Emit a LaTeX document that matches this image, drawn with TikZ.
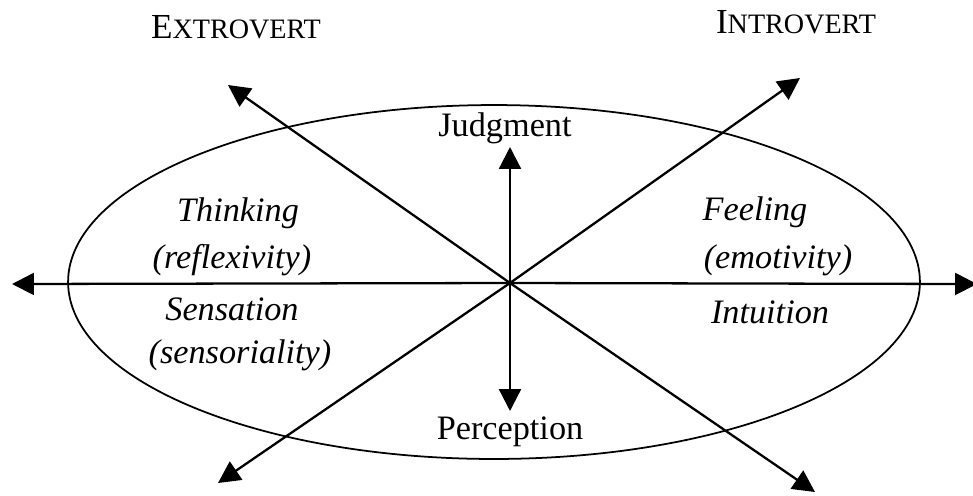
\documentclass[tikz,border=0pt]{standalone}
\usepackage{fontspec}
\setmainfont{Liberation Serif}
\usetikzlibrary{arrows.meta}
\begin{document}
\begin{tikzpicture}[x=0.02cm,y=-0.02cm,
  axis/.style={line width=1.3pt,-{Triangle[length=12.5pt,width=12.5pt]}},
  label/.style={font=\fontsize{19.5}{22}\selectfont,inner sep=0pt,anchor=center},
  quad/.style={label,font=\fontsize{19.5}{22}\selectfont\itshape}]
\useasboundingbox (0,0) rectangle (973,495);
\fill[white] (0,0) rectangle (973,495);

% the ellipse of the four functions
\draw[line width=1pt] (494,282) ellipse [x radius=8.52cm, y radius=3.54cm];

% axes from the crossing point
\coordinate (O) at (510,283);
\coordinate (W) at (12,284);
\coordinate (E) at (977,284);
\coordinate (N) at (510,147);
\coordinate (S) at (510,411);
\coordinate (NW) at (228,85);
\coordinate (SE) at (815,492);
\coordinate (NE) at (800,78);
\coordinate (SW) at (218,483);

\draw[axis] (O) -- (W);
\draw[axis] (O) -- (E);
\draw[axis] (O) -- (N);
\draw[axis] (O) -- (S);
\draw[axis] (O) -- (NW);
\draw[axis] (O) -- (SE);
\draw[axis] (O) -- (NE);
\draw[axis] (O) -- (SW);

% attitudes
\node[label] (extro) at (236,27) {\fontsize{20}{22}\selectfont E\fontsize{16}{22}\selectfont XTROVERT};
\node[label] (intro) at (796,22) {\fontsize{20}{22}\selectfont I\fontsize{16}{22}\selectfont NTROVERT};

% vertical axis labels
\node[label] (judg) at (505,128) {Judgment};
\node[label] (perc) at (510,432) {Perception};

% functions
\node[quad] (think) at (238,213) {Thinking};
\node[quad] (refl) at (232,260) {(reflexivity)};
\node[quad] (sens) at (232,309) {Sensation};
\node[quad] (senso) at (240,355) {(sensoriality)};
\node[quad] (feel) at (755,212) {Feeling};
\node[quad] (emot) at (778,260) {(emotivity)};
\node[quad] (intu) at (770,312) {Intuition};
\end{tikzpicture}
\end{document}
